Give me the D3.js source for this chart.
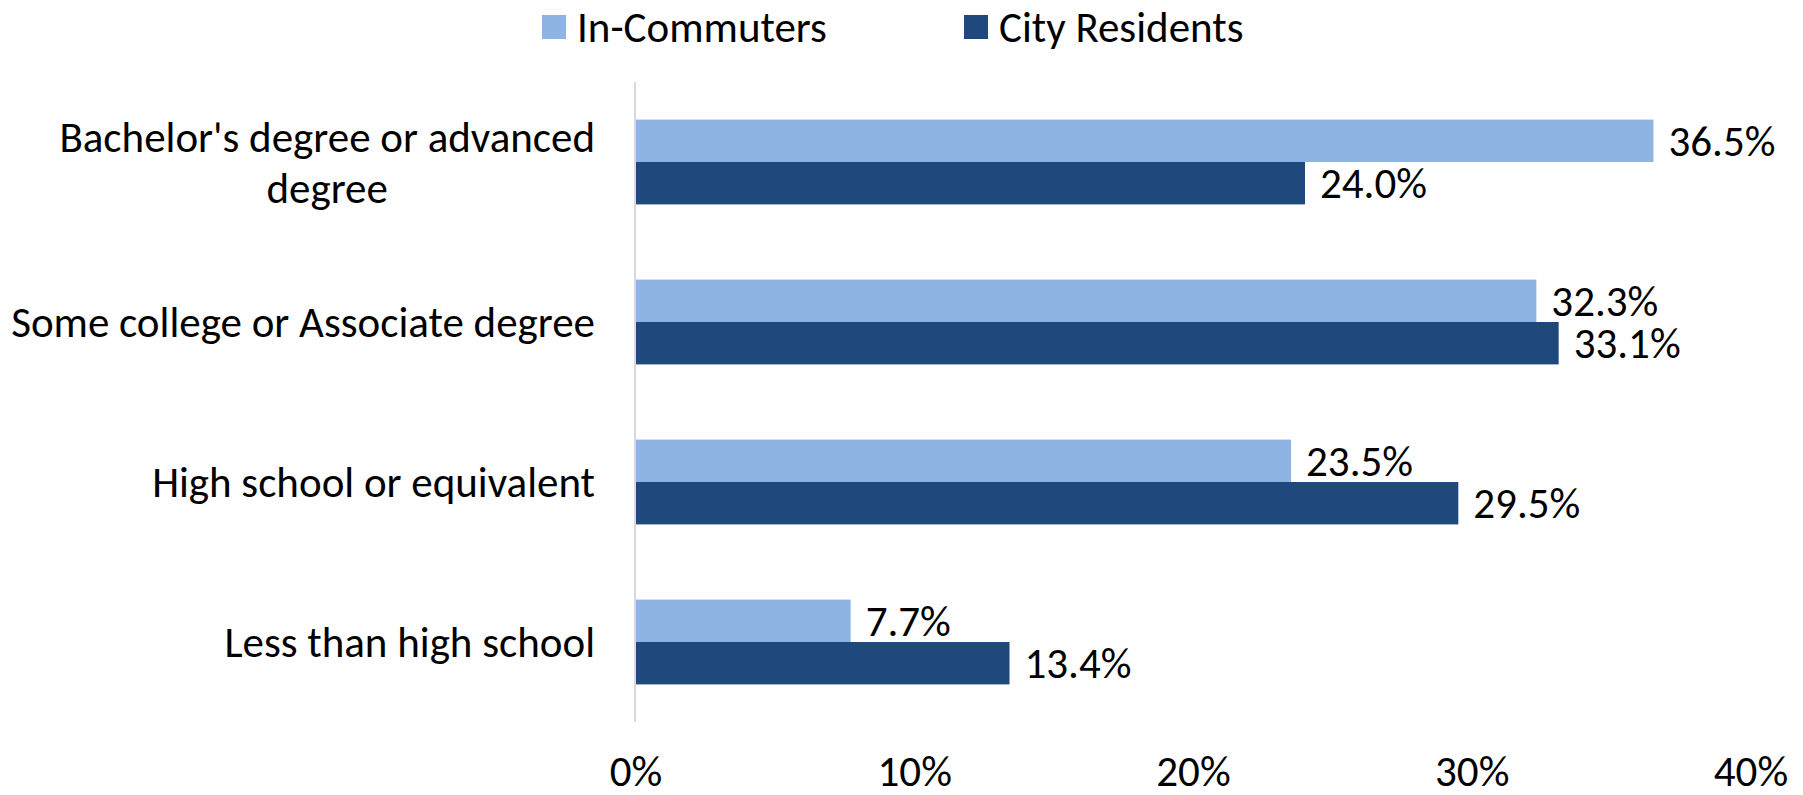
<!DOCTYPE html>
<html>
<head>
<meta charset="utf-8">
<script src="https://cdn.jsdelivr.net/npm/d3@7"></script>
<style>
  body { margin: 0; background: #fff; }
  text { font-family: Carlito, Calibri, Lato, sans-serif; fill: #000; }
</style>
</head>
<body>
<div id="chart"></div>
<script>
// education levels, top to bottom
var categories = [
  ["Bachelor's degree or advanced", "degree"],
  ["Some college or Associate degree"],
  ["High school or equivalent"],
  ["Less than high school"]
];
var seriesNames = ["In-Commuters", "City Residents"];
var inCommuters = [36.5, 32.3, 23.5, 7.7];
var cityResidents = [24.0, 33.1, 29.5, 13.4];
var xTicks = [0, 10, 20, 30, 40];

var colors = ["#8eb4e3", "#1f497d"];

var width = 1803, height = 795;
var margin = { top: 82, left: 636, right: 52, bottom: 73 };
var fs = "43px";

var svg = d3.select("#chart").append("svg")
  .attr("width", width)
  .attr("height", height);

var xScale = d3.scaleLinear()
  .domain([0, 40])
  .range([margin.left, width - margin.right]);

var yScale = d3.scaleBand()
  .domain(d3.range(categories.length))
  .range([margin.top, height - margin.bottom])
  .paddingInner(0.47)
  .paddingOuter(0.235);

var ySub = d3.scaleBand()
  .domain([0, 1])
  .range([0, yScale.bandwidth()]);

var values = [inCommuters, cityResidents];

// bars
values.forEach(function(vals, s) {
  svg.append("g")
    .selectAll("rect")
    .data(vals)
    .enter().append("rect")
    .attr("x", xScale(0))
    .attr("y", function(d, i) { return yScale(i) + ySub(s); })
    .attr("width", function(d) { return xScale(d) - xScale(0); })
    .attr("height", ySub.bandwidth())
    .attr("fill", colors[s]);

  // value labels
  svg.append("g")
    .selectAll("text")
    .data(vals)
    .enter().append("text")
    .attr("x", function(d) { return xScale(d) + 15; })
    .attr("y", function(d, i) { return yScale(i) + ySub(s) + ySub.bandwidth() / 2; })
    .attr("dy", "0.35em")
    .style("font-size", fs)
    .text(function(d) { return d.toFixed(1) + "%"; });
});

// vertical axis line
svg.append("line")
  .attr("x1", xScale(0) - 1).attr("x2", xScale(0) - 1)
  .attr("y1", margin.top).attr("y2", height - margin.bottom)
  .attr("stroke", "#d9d9d9")
  .attr("stroke-width", 2);

// x tick labels
svg.append("g")
  .selectAll("text")
  .data(xTicks)
  .enter().append("text")
  .attr("x", function(d) { return xScale(d); })
  .attr("y", 786)
  .attr("text-anchor", "middle")
  .style("font-size", fs)
  .text(function(d) { return d + "%"; });

// category labels
var lineH = 51;
categories.forEach(function(lines, i) {
  var cy = yScale(i) + yScale.bandwidth() / 2;
  var y0 = cy - (lines.length - 1) * lineH / 2;
  var first = svg.append("text")
    .attr("x", margin.left - 41)
    .attr("y", y0)
    .attr("dy", "0.35em")
    .attr("text-anchor", "end")
    .style("font-size", fs)
    .text(lines[0]);
  if (lines.length > 1) {
    var w = first.node().getComputedTextLength();
    var mid = margin.left - 41 - w / 2;
    lines.slice(1).forEach(function(l, k) {
      svg.append("text")
        .attr("x", mid)
        .attr("y", y0 + (k + 1) * lineH)
        .attr("dy", "0.35em")
        .attr("text-anchor", "middle")
        .style("font-size", fs)
        .text(l);
    });
  }
});

// legend
var legendX = [542, 964];
seriesNames.forEach(function(name, s) {
  var g = svg.append("g").attr("transform", "translate(" + legendX[s] + ",15)");
  g.append("rect")
    .attr("width", 24).attr("height", 24)
    .attr("fill", colors[s]);
  g.append("text")
    .attr("x", 35)
    .attr("y", 12)
    .attr("dy", "0.35em")
    .style("font-size", fs)
    .text(name);
});
</script>
</body>
</html>
